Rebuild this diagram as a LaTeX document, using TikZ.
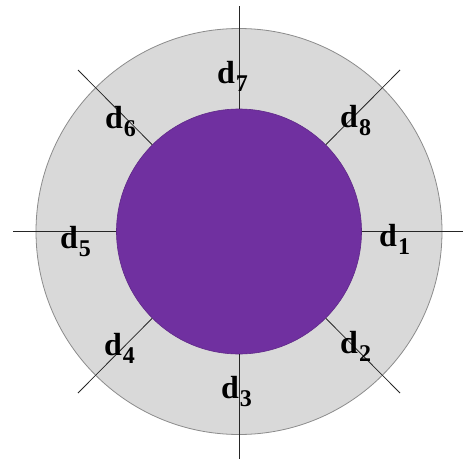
\documentclass[tikz,border=0pt]{standalone}
\usepackage{fontspec}
\setmainfont{Liberation Serif}
\definecolor{ringgray}{RGB}{217,217,217}
\definecolor{ringedge}{RGB}{140,140,140}
\definecolor{corepurple}{RGB}{112,48,160}
\begin{document}
\begin{tikzpicture}[x=1pt,y=-1pt,
  ring/.style={circle,inner sep=0pt,minimum size=406pt,fill=ringgray,draw=ringedge,line width=0.8pt},
  core/.style={circle,inner sep=0pt,minimum size=245pt,fill=corepurple,draw=corepurple!85!black,line width=0.6pt},
  ray/.style={draw=black!85,line width=0.8pt},
  lab/.style={anchor=base west,inner sep=0pt,font=\fontsize{32}{32}\selectfont\bfseries}]
\useasboundingbox (0,0) rectangle (463,458);
\node[ring] (outer) at (239,231.5) {};
\node[core] (inner) at (239,231.5) {};
\coordinate (e1) at (470,231.5);
\coordinate (e2) at (400,393);
\coordinate (e3) at (239,462);
\coordinate (e4) at (78,393);
\coordinate (e5) at (13,231.5);
\coordinate (e6) at (78,70);
\coordinate (e7) at (239,6);
\coordinate (e8) at (400,70);
\draw[ray] (inner.east) -- (e1);
\draw[ray] (inner.south east) -- (e2);
\draw[ray] (inner.south) -- (e3);
\draw[ray] (inner.south west) -- (e4);
\draw[ray] (inner.west) -- (e5);
\draw[ray] (inner.north west) -- (e6);
\draw[ray] (inner.north) -- (e7);
\draw[ray] (inner.north east) -- (e8);
\newcommand{\dlab}[1]{d\kern1pt\raisebox{-8pt}{\fontsize{24}{24}\selectfont #1}}
\node[lab] (l1) at (379,246) {\dlab{1}};
\node[lab] (l2) at (340,353) {\dlab{2}};
\node[lab] (l3) at (221,398) {\dlab{3}};
\node[lab] (l4) at (104,355) {\dlab{4}};
\node[lab] (l5) at (60,248) {\dlab{5}};
\node[lab] (l6) at (105,128) {\dlab{6}};
\node[lab] (l7) at (217,83) {\dlab{7}};
\node[lab] (l8) at (340,127) {\dlab{8}};
\end{tikzpicture}
\end{document}
